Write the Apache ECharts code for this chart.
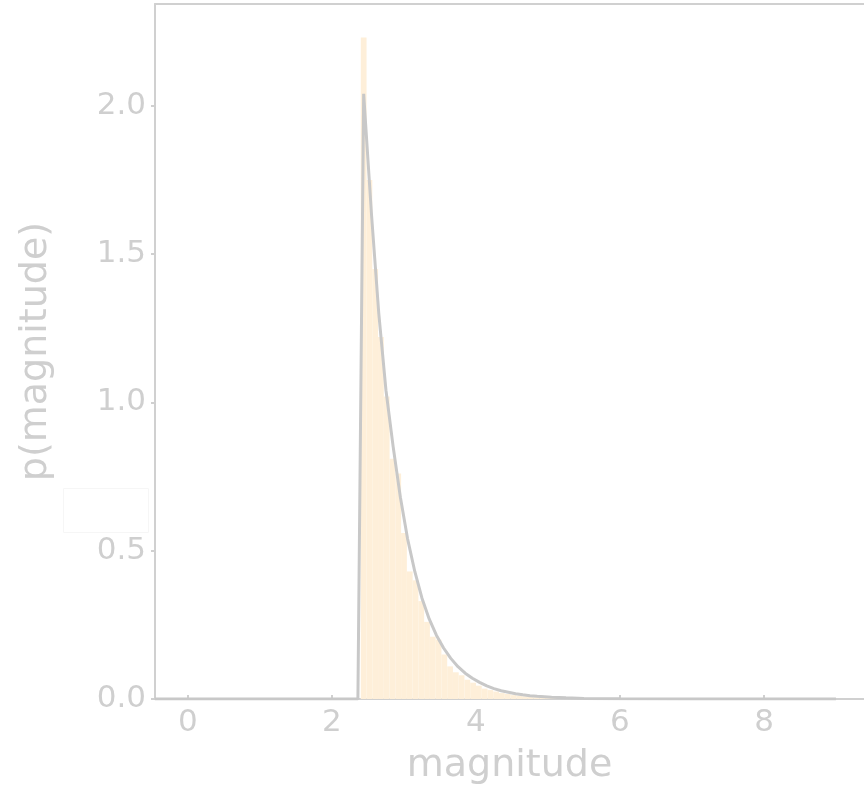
<!DOCTYPE html>
<html>
<head>
<meta charset="utf-8">
<script src="https://cdn.jsdelivr.net/npm/echarts@6/dist/echarts.min.js"></script>
<style>
html,body{margin:0;padding:0;background:#fff;}
#chart{width:864px;height:790px;}
</style>
</head>
<body>
<div id="chart"></div>
<script>
// Histogram bins (left edges) and densities
const binEdges = [2.40,2.48,2.56,2.64,2.72,2.80,2.88,2.96,3.04,3.12,3.20,3.28,3.36,3.44,3.52,3.60,3.68,3.76,3.84,3.92,4.00,4.08,4.16,4.24,4.32,4.40,4.48,4.56,4.64,4.72,4.80,4.88,4.96,5.04,5.12,5.20];
const binHeights = [2.23,1.75,1.45,1.22,1.02,0.81,0.76,0.56,0.43,0.40,0.33,0.26,0.21,0.20,0.15,0.11,0.09,0.08,0.065,0.055,0.045,0.035,0.03,0.025,0.02,0.017,0.013,0.011,0.009,0.007,0.006,0.004,0.004,0.003,0.002,0.002];
const binWidth = 0.08;

// Fitted density curve
const curveX = [-0.46,2.36,2.44,2.55,2.65,2.75,2.85,2.95,3.05,3.15,3.25,3.35,3.45,3.55,3.65,3.75,3.85,3.95,4.05,4.15,4.25,4.35,4.45,4.55,4.65,4.75,4.85,5.05,5.25,5.5,6.0,7.0,9.0];
const curveY = [0,0,2.04,1.63,1.30,1.04,0.85,0.68,0.54,0.43,0.34,0.27,0.215,0.172,0.137,0.109,0.087,0.070,0.056,0.044,0.035,0.028,0.023,0.018,0.014,0.011,0.009,0.006,0.004,0.002,0.001,0.0,0.0];

const xTicks = [0,2,4,6,8];
const yTickLabels = ['0.0','0.5','1.0','1.5','2.0'];

const TXT = '#cfcfcf';
const AX = '#d0d0d0';
const FONT = 'DejaVu Sans';
const XMIN = -0.458, XMAX = 9.389;

const chart = echarts.init(document.getElementById('chart'), null, {renderer:'canvas'});

const barData = binEdges.map((e,i)=>[e, e+binWidth, binHeights[i]]);
const lineData = curveX.map((x,i)=>[x, curveY[i]]);

chart.setOption({
  animation:false,
  backgroundColor:'#ffffff',
  grid:{left:155, right:0, top:4, bottom:89, show:false},
  xAxis:[{
    type:'value', min:XMIN, max:XMAX, position:'bottom',
    name:'magnitude', nameLocation:'middle', nameGap:48,
    nameTextStyle:{color:TXT, fontSize:38, fontFamily:FONT},
    axisLine:{show:true, onZero:false, lineStyle:{color:AX, width:2}},
    axisTick:{show:true, inside:true, length:4, lineStyle:{color:AX, width:2}, customValues:xTicks},
    axisLabel:{color:TXT, fontSize:31, fontFamily:FONT, margin:8, customValues:xTicks, formatter:v=>String(v)},
    splitLine:{show:false}
  },{
    type:'value', min:XMIN, max:XMAX, position:'top',
    axisLine:{show:true, onZero:false, lineStyle:{color:AX, width:2}},
    axisTick:{show:false}, axisLabel:{show:false}, splitLine:{show:false}
  }],
  yAxis:{
    type:'value', min:0, max:2.343, interval:0.5,
    name:'p(magnitude)', nameLocation:'middle', nameGap:100, nameRotate:90,
    nameTextStyle:{color:TXT, fontSize:38, fontFamily:FONT},
    axisLine:{show:true, onZero:false, lineStyle:{color:AX, width:2}},
    axisTick:{show:true, length:4, lineStyle:{color:AX, width:2}},
    axisLabel:{color:TXT, fontSize:31, fontFamily:FONT, margin:9, showMaxLabel:false,
      formatter:v=>{const i=Math.round(v/0.5); return yTickLabels[i]!==undefined && Math.abs(v-i*0.5)<1e-6 ? yTickLabels[i] : '';}},
    splitLine:{show:false}
  },
  graphic:[{type:'rect', shape:{x:63.5,y:488.5,width:85,height:44}, style:{fill:'transparent', stroke:'#f6f6f6', lineWidth:1}, silent:true}],
  series:[
    {
      type:'custom',
      data:barData,
      encode:{x:[0,1], y:2},
      clip:true,
      renderItem:function(params, api){
        const p0 = api.coord([api.value(0), api.value(2)]);
        const p1 = api.coord([api.value(1), 0]);
        return {type:'rect', shape:{x:p0[0], y:p0[1], width:p1[0]-p0[0], height:p1[1]-p0[1]},
          style:{fill:'#feefd9', stroke:null}};
      },
      z:1
    },
    {
      type:'line',
      data:lineData,
      showSymbol:false,
      symbol:'none',
      lineStyle:{color:'#c8c8c8', width:3},
      clip:true,
      z:3
    }
  ]
});
</script>
</body>
</html>
